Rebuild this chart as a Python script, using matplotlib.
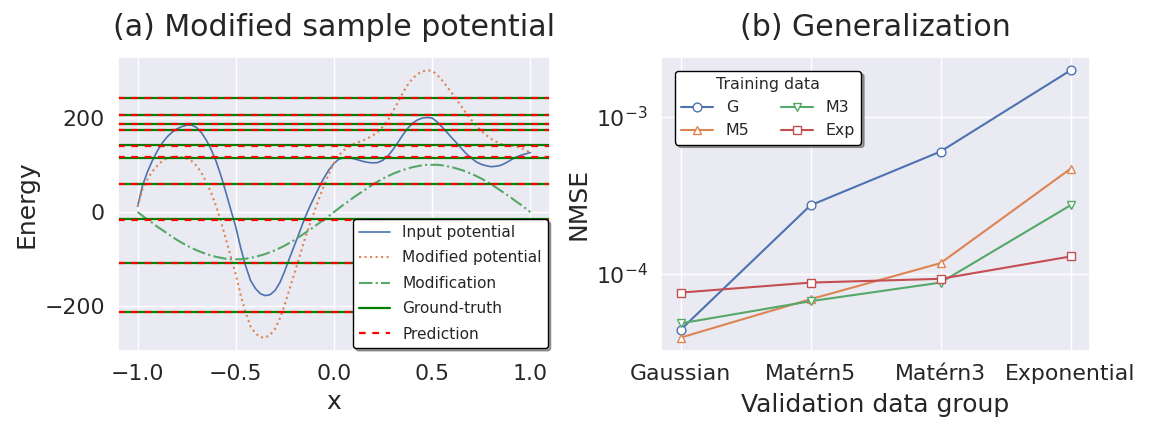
import numpy as np
import matplotlib
matplotlib.use("Agg")
import matplotlib.pyplot as plt
import seaborn as sns

sns.set_theme(style="darkgrid")
plt.rcParams['font.family'] = ['DejaVu Sans']

# ---------------- Panel (a) data ----------------
x_pos = np.linspace(-1.0, 1.0, 81)   # sampling grid, step 0.025
input_potential = [12, 56, 85, 109, 129, 146, 159, 169, 176, 181,
                   184, 184, 179, 168, 152, 132, 107, 76, 41, 4,
                   -32, -76, -114, -145, -162, -173, -177, -175, -166, -149,
                   -124, -96, -69, -42, -14, 10, 32, 53, 73, 90,
                   103, 112, 115, 115, 113, 110, 107, 105, 104, 105,
                   110, 119, 132, 147, 163, 177, 188, 195, 199, 200,
                   199, 191, 180, 169, 157, 146, 134, 123, 114, 106,
                   101, 98, 96, 97, 99, 104, 110, 116, 120, 123, 126]
modification = [0, -8, -16, -23, -31, -38, -45, -52, -59, -65,
                -71, -76, -81, -85, -89, -92, -95, -97, -99, -100,
                -100, -100, -99, -97, -95, -92, -89, -85, -81, -76,
                -71, -65, -59, -52, -45, -38, -31, -23, -16, -8,
                0, 8, 16, 23, 31, 38, 45, 52, 59, 65,
                71, 76, 81, 85, 89, 92, 95, 97, 99, 100,
                100, 100, 99, 97, 95, 92, 89, 85, 81, 76,
                71, 65, 59, 52, 45, 38, 31, 23, 16, 8, 0]
modified_potential = [12, 48, 69, 86, 98, 108, 114, 117, 117, 116,
                      113, 108, 98, 83, 63, 40, 12, -21, -58, -96,
                      -132, -176, -213, -242, -257, -265, -266, -260, -247, -225,
                      -195, -161, -128, -94, -59, -28, 1, 30, 57, 82,
                      103, 120, 131, 138, 144, 148, 152, 157, 163, 170,
                      181, 195, 213, 232, 252, 269, 283, 292, 298, 300,
                      299, 291, 279, 266, 252, 238, 223, 208, 195, 182,
                      172, 163, 155, 149, 144, 142, 141, 139, 136, 131, 126]
ground_truth = [241, 205.5, 186.5, 174, 142.5, 115, 60, -15.5, -108, -211]
prediction = [241, 205.5, 186.5, 174, 140, 117, 60, -17.5, -108, -211]

# ---------------- Panel (b) data ----------------
validation_groups = ["Gaussian", "Matérn5", "Matérn3", "Exponential"]
training_labels = ["G", "M5", "M3", "Exp"]
nmse_G = [4.4e-5, 2.73e-4, 6.0e-4, 1.97e-3]
nmse_M5 = [3.93e-5, 6.9e-5, 1.17e-4, 4.66e-4]
nmse_M3 = [4.84e-5, 6.7e-5, 8.8e-5, 2.73e-4]
nmse_Exp = [7.6e-5, 8.8e-5, 9.3e-5, 1.29e-4]

W, H = 1152, 432
fig = plt.figure(figsize=(W / 100, H / 100), dpi=100)

TITLE = 21.6
LABEL = 18
TICK = 15.8
LEG = 11.4

blue, orange, green, red = sns.color_palette("deep")[:4]

# ---------- (a) ----------
ax1 = fig.add_axes([118 / W, 1 - 351 / H, 432 / W, 294 / H])
ax1.plot(x_pos, input_potential, color=blue, lw=1.2, label="Input potential")
ax1.plot(x_pos, modified_potential, color=orange, lw=1.5, ls=':', label="Modified potential")
ax1.plot(x_pos, modification, color=green, lw=1.5, ls='-.', label="Modification")
for i, e in enumerate(ground_truth):
    ax1.axhline(e, color='green', lw=1.6, label="Ground-truth" if i == 0 else None)
for i, e in enumerate(prediction):
    ax1.axhline(e, color='red', lw=1.6, ls=(0, (3, 3)), label="Prediction" if i == 0 else None)
ax1.set_title("(a) Modified sample potential", fontsize=TITLE, pad=15)
ax1.set_xlabel("x", fontsize=LABEL)
ax1.set_ylabel("Energy", fontsize=LABEL)
ax1.tick_params(labelsize=TICK)
ax1.set_xticks([-1.0, -0.5, 0.0, 0.5, 1.0])
ax1.set_yticks([-200, 0, 200])
leg1 = ax1.legend(loc='lower right', bbox_to_anchor=(0.995, 0.01), borderaxespad=0,
                  fontsize=11.1, labelspacing=0.68, frameon=True, shadow=True, fancybox=True,
                  facecolor='white', edgecolor='black', framealpha=1)
leg1.get_frame().set_linewidth(1.0)

# ---------- (b) ----------
ax2 = fig.add_axes([661 / W, 1 - 351 / H, 429 / W, 294 / H])
idx = np.arange(len(validation_groups))
series = [nmse_G, nmse_M5, nmse_M3, nmse_Exp]
markers = ['o', '^', 'v', 's']
colors = [blue, orange, green, red]
for vals, lab, mk, c in zip(series, training_labels, markers, colors):
    ax2.plot(idx, vals, color=c, lw=1.5, marker=mk, markersize=6.3,
             markerfacecolor='white', markeredgecolor=c, markeredgewidth=1, label=lab)
ax2.set_yscale('log')
ax2.set_xticks(idx)
ax2.set_xticklabels(validation_groups)
ax2.minorticks_off()
ax2.set_title("(b) Generalization", fontsize=TITLE, pad=15)
ax2.set_xlabel("Validation data group", fontsize=LABEL, labelpad=6)
ax2.set_ylabel("NMSE", fontsize=LABEL)
ax2.tick_params(labelsize=TICK)
leg2 = ax2.legend(loc='upper left', bbox_to_anchor=(0.033, 0.952), borderaxespad=0,
                  ncol=2, title="Training data", fontsize=LEG, title_fontsize=LEG,
                  frameon=True, shadow=True, fancybox=True,
                  facecolor='white', edgecolor='black', framealpha=1)
leg2.get_frame().set_linewidth(1.0)

fig.savefig("out.png", dpi=100)
